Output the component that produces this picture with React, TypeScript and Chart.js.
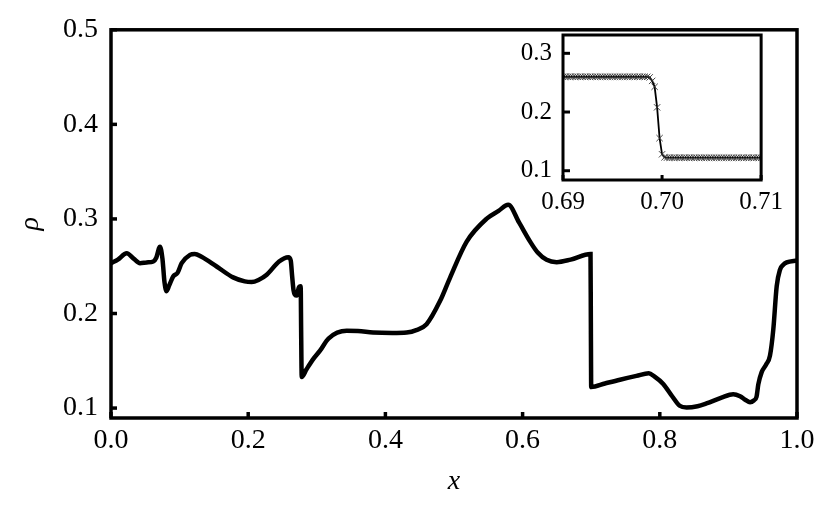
import React, { useEffect, useRef } from "react";
import { Chart, registerables } from "chart.js";

Chart.register(...registerables);

// ---- Main plot data (x, density rho) ----
const mainX = [
  0.0, 0.01, 0.0229, 0.033, 0.0423, 0.052, 0.0617, 0.066, 0.0714, 0.075,
  0.078, 0.081, 0.085, 0.0908, 0.097, 0.103, 0.1152, 0.122, 0.132, 0.154,
  0.178, 0.195, 0.205, 0.215, 0.227, 0.245, 0.2585, 0.262, 0.264, 0.266,
  0.268, 0.271, 0.2735, 0.2765, 0.2772, 0.278, 0.285, 0.295, 0.3047, 0.317,
  0.3436, 0.36, 0.382, 0.41, 0.431, 0.445, 0.46, 0.4796, 0.494, 0.5185,
  0.5477, 0.565, 0.579, 0.595, 0.611, 0.622, 0.635, 0.6497, 0.67, 0.699,
  0.6995, 0.7, 0.72, 0.742, 0.766, 0.784, 0.792, 0.805, 0.818, 0.829,
  0.839, 0.855, 0.868, 0.89, 0.907, 0.917, 0.925, 0.9315, 0.937, 0.941,
  0.9436, 0.9485, 0.955, 0.9606, 0.9655, 0.9704, 0.9752, 0.98, 0.985, 1.0,
];
const mainY = [
  0.2532, 0.257, 0.2637, 0.258, 0.2532, 0.254, 0.255, 0.259, 0.2707, 0.258,
  0.233, 0.2236, 0.23, 0.2393, 0.243, 0.2532, 0.262, 0.263, 0.26, 0.2497,
  0.2382, 0.234, 0.2333, 0.2355, 0.241, 0.255, 0.2595, 0.256, 0.24, 0.225,
  0.22, 0.219, 0.227, 0.2288, 0.18, 0.1328, 0.141, 0.152, 0.1607, 0.1735,
  0.1817, 0.1815, 0.18, 0.1795, 0.18, 0.1825, 0.1887, 0.2131, 0.2375, 0.276,
  0.3003, 0.3085, 0.315, 0.296, 0.276, 0.2645, 0.2568, 0.2543, 0.257, 0.263,
  0.19, 0.1223, 0.126, 0.13, 0.134, 0.1368, 0.1335, 0.1255, 0.1125, 0.1025,
  0.1007, 0.102, 0.1049, 0.111, 0.1147, 0.1125, 0.1085, 0.1062, 0.108, 0.112,
  0.125, 0.138, 0.146, 0.1555, 0.1835, 0.2288, 0.2463, 0.2515, 0.254, 0.256,
];
const mainXTicks = [0.0, 0.2, 0.4, 0.6, 0.8, 1.0];
const mainYTicks = [0.1, 0.2, 0.3, 0.4, 0.5];

// ---- Inset data (zoom around the shock at x = 0.70) ----
const insetX = [
  0.69, 0.69025, 0.6905, 0.69075, 0.691, 0.69125, 0.6915, 0.69175,
  0.692, 0.69225, 0.6925, 0.69275, 0.693, 0.69325, 0.6935, 0.69375,
  0.694, 0.69425, 0.6945, 0.69475, 0.695, 0.69525, 0.6955, 0.69575,
  0.696, 0.69625, 0.6965, 0.69675, 0.697, 0.69725, 0.6975, 0.69775,
  0.698, 0.69825, 0.6985, 0.69875, 0.699, 0.69925, 0.6995, 0.69975,
  0.7, 0.70025, 0.7005, 0.70075, 0.701, 0.70125, 0.7015, 0.70175,
  0.702, 0.70225, 0.7025, 0.70275, 0.703, 0.70325, 0.7035, 0.70375,
  0.704, 0.70425, 0.7045, 0.70475, 0.705, 0.70525, 0.7055, 0.70575,
  0.706, 0.70625, 0.7065, 0.70675, 0.707, 0.70725, 0.7075, 0.70775,
  0.708, 0.70825, 0.7085, 0.70875, 0.709, 0.70925, 0.7095, 0.70975,
  0.71,
];
const insetY = [
  0.2601, 0.2601, 0.2601, 0.2601, 0.2601, 0.2601, 0.2601, 0.2601,
  0.2601, 0.2601, 0.2601, 0.2601, 0.2601, 0.2601, 0.2601, 0.2601,
  0.2601, 0.2601, 0.2601, 0.2601, 0.2601, 0.2601, 0.2601, 0.2601,
  0.2601, 0.2601, 0.2601, 0.2601, 0.2601, 0.2601, 0.2601, 0.2601,
  0.2601, 0.2601, 0.26, 0.259, 0.253, 0.243, 0.208, 0.1555,
  0.128, 0.1228, 0.1223, 0.1222, 0.1222, 0.1222, 0.1222, 0.1222,
  0.1222, 0.1222, 0.1222, 0.1222, 0.1222, 0.1222, 0.1222, 0.1222,
  0.1222, 0.1222, 0.1222, 0.1222, 0.1222, 0.1222, 0.1222, 0.1222,
  0.1222, 0.1222, 0.1222, 0.1222, 0.1222, 0.1222, 0.1222, 0.1222,
  0.1222, 0.1222, 0.1222, 0.1222, 0.1222, 0.1222, 0.1222, 0.1222,
  0.1222,
];
const insetXTicks = [0.69, 0.7, 0.71];
const insetYTicks = [0.1, 0.2, 0.3];

const SERIF = "'Liberation Serif', 'Times New Roman', Times, serif";

function framePlugin(lw: number, yLen: number, xLen: number) {
  return {
    id: "frame",
    afterDraw(chart: any) {
      const { ctx, chartArea: a, scales } = chart;
      ctx.save();
      ctx.strokeStyle = "#000";
      ctx.lineWidth = lw;
      ctx.lineCap = "butt";
      ctx.lineJoin = "miter";
      ctx.strokeRect(a.left, a.top, a.right - a.left, a.bottom - a.top);
      scales.y.ticks.forEach((t: any) => {
        const py = scales.y.getPixelForValue(t.value);
        ctx.beginPath();
        ctx.moveTo(a.left, py);
        ctx.lineTo(a.left + yLen, py);
        ctx.stroke();
      });
      scales.x.ticks.forEach((t: any) => {
        const px = scales.x.getPixelForValue(t.value);
        ctx.beginPath();
        ctx.moveTo(px, a.bottom);
        ctx.lineTo(px, a.bottom - xLen);
        ctx.stroke();
      });
      ctx.restore();
    },
  };
}

export default function App() {
  const mainRef = useRef<HTMLCanvasElement>(null);
  const insetRef = useRef<HTMLCanvasElement>(null);

  useEffect(() => {
    const tickFont = { family: SERIF, size: 28 };
    const titleFont = { family: SERIF, size: 28, style: "italic" as const };
    const main = new Chart(mainRef.current!, {
      type: "line",
      data: {
        datasets: [
          {
            data: mainX.map((x, i) => ({ x, y: mainY[i] })),
            borderColor: "#000",
            borderWidth: 4.5,
            pointRadius: 0,
            cubicInterpolationMode: "monotone",
            fill: false,
          },
        ],
      },
      options: {
        responsive: false,
        animation: false,
        layout: { padding: { left: 0, top: 26, right: 33, bottom: 0 } },
        plugins: { legend: { display: false }, tooltip: { enabled: false } },
        scales: {
          x: {
            type: "linear",
            min: 0,
            max: 1,
            afterFit: (s: any) => {
              s.height = 95;
            },
            afterBuildTicks: (s: any) => {
              s.ticks = mainXTicks.map((v) => ({ value: v }));
            },
            ticks: {
              color: "#000",
              font: tickFont,
              padding: 6,
              maxRotation: 0,
              callback: (v: any) => Number(v).toFixed(1),
            },
            grid: { display: false, drawTicks: false },
            border: { display: false },
            title: {
              display: true,
              text: "x",
              color: "#000",
              font: titleFont,
              padding: { top: 0, bottom: 15 },
            },
          },
          y: {
            type: "linear",
            min: 0.0895,
            max: 0.5,
            afterFit: (s: any) => {
              s.width = 111;
            },
            afterBuildTicks: (s: any) => {
              s.ticks = mainYTicks.map((v) => ({ value: v }));
            },
            ticks: {
              color: "#000",
              font: tickFont,
              padding: 13,
              callback: (v: any) => Number(v).toFixed(1),
            },
            grid: { display: false, drawTicks: false },
            border: { display: false },
            title: {
              display: true,
              text: "ρ",
              color: "#000",
              font: titleFont,
              padding: { top: 14, bottom: 0 },
            },
          },
        },
      },
      plugins: [framePlugin(3.5, 6, 6)],
    } as any);

    const insetFont = { family: SERIF, size: 25 };
    const inset = new Chart(insetRef.current!, {
      type: "line",
      data: {
        datasets: [
          {
            data: insetX.map((x, i) => ({ x, y: insetY[i] })),
            borderColor: "#000",
            borderWidth: 1.8,
            pointStyle: "crossRot",
            pointRadius: 4.5,
            pointBorderWidth: 0.9,
            pointBorderColor: "#333",
            tension: 0,
            fill: false,
          },
        ],
      },
      options: {
        responsive: false,
        animation: false,
        layout: { padding: { left: 0, top: 35, right: 26, bottom: 0 } },
        plugins: { legend: { display: false }, tooltip: { enabled: false } },
        scales: {
          x: {
            type: "linear",
            min: 0.69,
            max: 0.71,
            afterFit: (s: any) => {
              s.height = 50;
            },
            afterBuildTicks: (s: any) => {
              s.ticks = insetXTicks.map((v) => ({ value: v }));
            },
            ticks: {
              color: "#000",
              font: insetFont,
              padding: 7,
              maxRotation: 0,
              callback: (v: any) => Number(v).toFixed(2),
            },
            grid: { display: false, drawTicks: false },
            border: { display: false },
          },
          y: {
            type: "linear",
            min: 0.0842,
            max: 0.3312,
            afterFit: (s: any) => {
              s.width = 93;
            },
            afterBuildTicks: (s: any) => {
              s.ticks = insetYTicks.map((v) => ({ value: v }));
            },
            ticks: {
              color: "#000",
              font: insetFont,
              padding: 11,
              callback: (v: any) => Number(v).toFixed(1),
            },
            grid: { display: false, drawTicks: false },
            border: { display: false },
          },
        },
      },
      plugins: [framePlugin(3, 7, 5)],
    } as any);

    return () => {
      main.destroy();
      inset.destroy();
    };
  }, []);

  return (
    <div
      style={{
        position: "fixed",
        left: 0,
        top: 0,
        width: 830,
        height: 513,
        background: "#fff",
      }}
    >
      <canvas
        ref={mainRef}
        width={830}
        height={513}
        style={{ position: "absolute", left: 0, top: 0 }}
      />
      <canvas
        ref={insetRef}
        width={320}
        height={230}
        style={{ position: "absolute", left: 470, top: 0 }}
      />
    </div>
  );
}
